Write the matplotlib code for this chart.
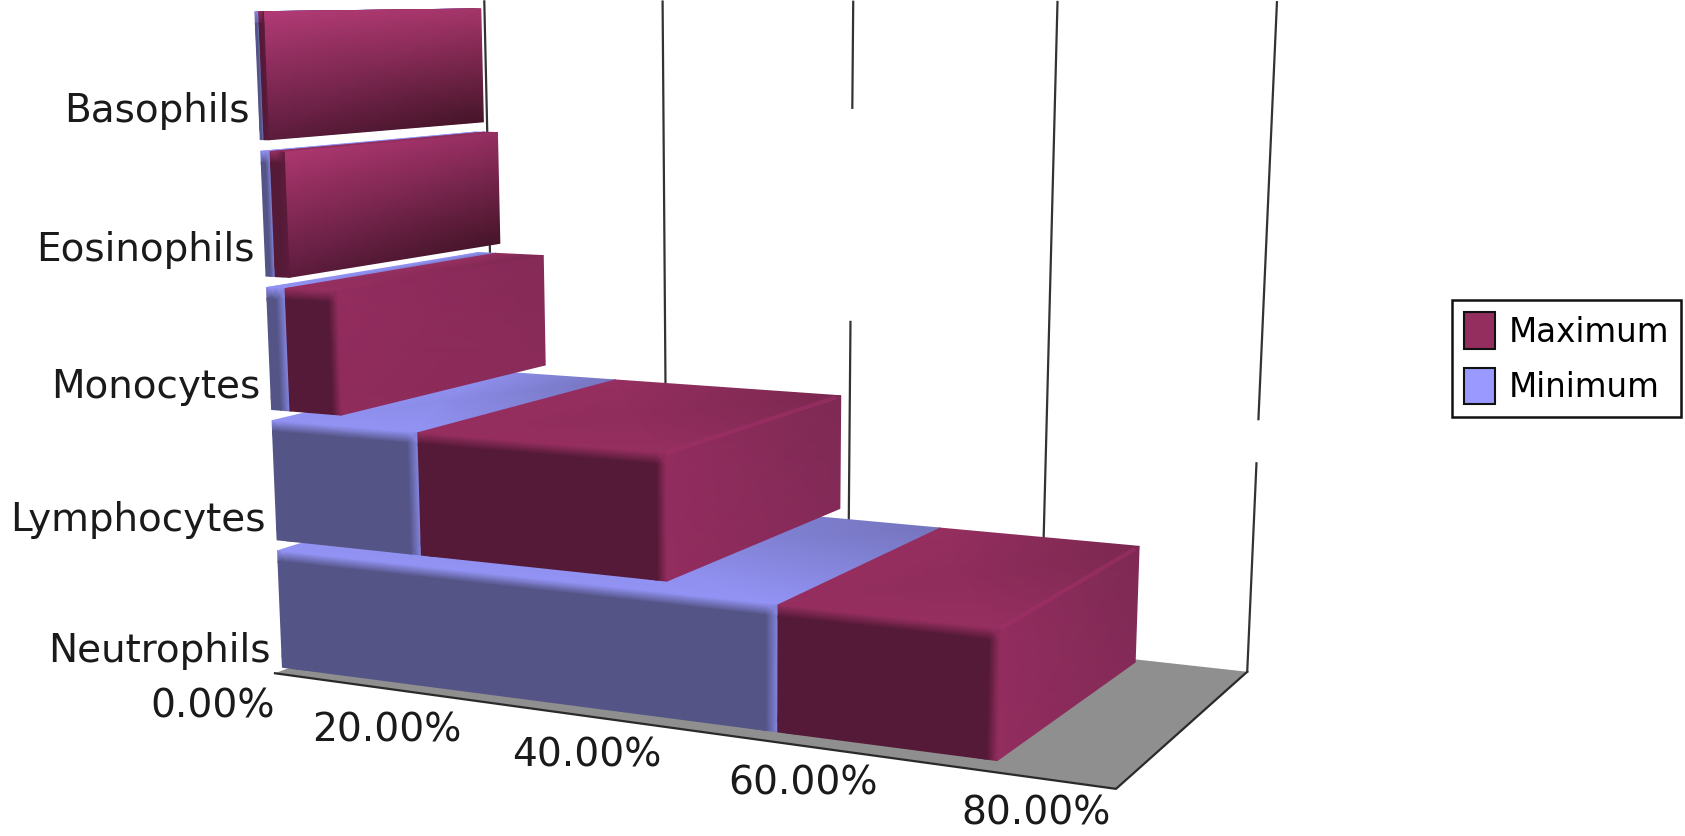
#!/usr/bin/env python3
import matplotlib

matplotlib.use("Agg")
import matplotlib.pyplot as plt
import numpy as np
from matplotlib.colors import to_rgb
from matplotlib.patches import Patch, Polygon

categories = ["Neutrophils", "Lymphocytes", "Monocytes", "Eosinophils", "Basophils"]
minimum = [50.4, 15.5, 2.0, 1.0, 0.4]
maximum = [70.0, 40.0, 7.5, 2.5, 0.9]
value_ticks = [0, 20, 40, 60, 80]

# canvas units are the axes' data units
WIDTH, HEIGHT = 1568, 778
GAP_BELOW, GAP_ABOVE = 0.025, 0.06
DEPTH_FRONT, DEPTH_BACK = 0.03, 0.945
FLOOR_FRONT_END = 80.8
FLOOR_FRONT_DEPTH = -0.03
BEVEL_Y = 0.08

# (value, height, depth) -> canvas, used to solve the camera
CAMERA_POINTS = [
    ((0, 0, 0), (255, 630)),
    ((80, 0, 1), (1161, 627)),
    ((0, 0, 1), (463, 545)),
    ((0, 5, 1), (449, 3)),
    ((80, 5, 1), (1189, 3)),
    ((0, 0.025, 0.03), (262, 622)),
    ((0, 0.94, 0.03), (262, 515)),
    ((0, 4.025, 0.03), (244, 128)),
    ((0, 4.94, 0.03), (238, 8)),
    ((70, 0.025, 0.03), (931, 702)),
    ((70, 0.94, 0.03), (929, 588)),
    ((70, 0.025, 0.945), (1057, 617)),
    ((70, 0.94, 0.945), (1060, 508)),
    ((40, 1.025, 0.03), (617, 535)),
    ((40, 1.94, 0.03), (617, 428)),
    ((40, 1.025, 0.945), (781, 472)),
    ((40, 1.94, 0.945), (783, 368)),
]

# gridline value -> unbroken stretches along the wall height
GRID_SPANS = {
    0: [(0, 5)],
    20: [(0, 5)],
    40: [(0, 2.51), (4.19, 5)],
    60: [(0, 5)],
    80: [(0, 1.62), (1.955, 5)],
}

RED_FRONT = "#551a37"
RED_TOP = ["#962f60", "#7b2850"]
RED_SIDE = {
    0: ("#932d5f", "#7e2a54", "#932d5f", "#842a58"),
    1: ("#932d5f", "#7e2a54", "#932d5f", "#842a58"),
    2: ("#932d5f", "#862a58", "#8f2c5c", "#8a2b59"),
    3: ("#ad3770", "#962f62", "#5c1c3c", "#451529"),
    4: ("#b23b76", "#a43569", "#5c1c3c", "#451529"),
}
BLUE_FRONT = "#545487"
BLUE_TOP = ["#9393f5", "#7474bd"]
BLUE_SIDE = ("#9090ee", "#7c7cc8", "#8888e4", "#7070b5")
EDGE_LIGHT = "#a23069"


def solve_camera(points):
    """ Direct linear transform from the reference points to a 3x4 matrix """

    rows = []
    for (x, y, z), (u, v) in points:
        world = [x / 80.0, y / 5.0, z, 1.0]
        rows.append(world + [0, 0, 0, 0] + [-u * w for w in world])
        rows.append([0, 0, 0, 0] + world + [-v * w for w in world])
    _, _, vh = np.linalg.svd(np.array(rows))
    return vh[-1].reshape(3, 4)


CAMERA = solve_camera(CAMERA_POINTS)


def project(x, y, z):
    """ Canvas position of a point given as value, height and depth """

    world = np.stack(
        [np.asarray(x) / 80.0, np.asarray(y) / 5.0, np.asarray(z), np.ones_like(x, float)],
        axis=-1,
    )
    p = world @ CAMERA.T
    return p[..., 0] / p[..., 2], p[..., 1] / p[..., 2]


def rgb(c):
    return np.array(to_rgb(c))


def bevel_stops(start, stop, bevel):
    bevel = min(bevel, (stop - start) / 2.0)
    return np.array([start, start + bevel, stop - bevel, stop])


def front_face(ax, v0, v1, y0, y1, base, top_col, side_col, bevel):
    vs = bevel_stops(v0, v1, bevel)
    ys = bevel_stops(y0, y1, BEVEL_Y)
    vv, yy = np.meshgrid(vs, ys)
    colors = np.zeros(vv.shape + (3,))
    colors[...] = rgb(base)
    colors[-1, :] = rgb(top_col)
    colors[:, -1] = rgb(side_col)
    px, py = project(vv, yy, np.full(vv.shape, DEPTH_FRONT))
    ax.pcolormesh(px, py, colors, shading="gouraud", zorder=3)


def top_face(ax, v0, v1, y, colors):
    vs = np.array([v0, v1])
    ds = np.array([DEPTH_FRONT, DEPTH_BACK])
    vv, dd = np.meshgrid(vs, ds)
    cols = np.array([[rgb(colors[0]), rgb(colors[0])], [rgb(colors[0]), rgb(colors[1])]])
    px, py = project(vv, np.full(vv.shape, y), dd)
    ax.pcolormesh(px, py, cols, shading="gouraud", zorder=3)


def side_face(ax, v, y0, y1, shades):
    """ shades run front top, back top, front bottom, back bottom """

    ds = np.array([DEPTH_FRONT, DEPTH_BACK])
    ys = np.array([y0, y1])
    dd, yy = np.meshgrid(ds, ys)
    cols = np.array(
        [[rgb(shades[2]), rgb(shades[3])], [rgb(shades[0]), rgb(shades[1])]]
    )
    px, py = project(np.full(dd.shape, v), yy, dd)
    ax.pcolormesh(px, py, cols, shading="gouraud", zorder=3)


def draw_box(ax, v0, v1, slot, front, top, side, bevel):
    y0, y1 = slot + GAP_BELOW, slot + 1 - GAP_ABOVE
    top_face(ax, v0, v1, y1, top)
    side_face(ax, v1, y0, y1, side)
    front_face(ax, v0, v1, y0, y1, front, top[0], side[2], bevel)


def draw_edge_light(ax, value, slot):
    """ Thin bright line where the top and the end of a bar meet """

    y = slot + 1 - GAP_ABOVE
    ds = np.array([DEPTH_FRONT, DEPTH_BACK - 0.03])
    px, py = project(np.full(2, value), np.full(2, y), ds)
    ax.plot(px, py, color=EDGE_LIGHT, lw=3, alpha=0.55, zorder=3.1, solid_capstyle="butt")


def draw_floor(ax):
    xs = np.array([0.0, FLOOR_FRONT_END, 80.0, 0.0])
    ds = np.array([0.0, FLOOR_FRONT_DEPTH, 1.0, 1.0])
    px, py = project(xs, np.zeros(4), ds)
    corners = np.column_stack([px, py])
    ax.add_patch(Polygon(corners, fc="#8f8f8f", ec="none", zorder=1))
    ax.plot(corners[:3, 0], corners[:3, 1], color="#2a2a2a", lw=1.6, zorder=1.5)


def draw_grid(ax):
    for value in value_ticks:
        for y0, y1 in GRID_SPANS[value]:
            px, py = project(np.array([value, value]), np.array([y0, y1]), np.ones(2))
            ax.plot(px, py, color="#333333", lw=1.6, zorder=2)


def draw_labels(ax):
    for i, name in enumerate(categories):
        px, py = project(0.0, i + 0.2, 0.0)
        ax.text(px - 3 + 0.3 * i, py + 2.5 - 1.8 * i, name, ha="right", va="center", fontsize=28, color="#1a1a1a", zorder=5)
    for value in value_ticks:
        px, py = project(float(value), 0.0, 0.0)
        ax.text(px, py + 31 - 0.04 * value, "%.2f%%" % value, ha="right", va="center", fontsize=28.2, color="#1a1a1a", zorder=5)


def main():

    fig = plt.figure(figsize=(16.85, 8.36), dpi=100)
    ax = fig.add_axes([0, 0, 1, 1])
    ax.set_xlim(0, WIDTH)
    ax.set_ylim(HEIGHT, 0)
    ax.set_axis_off()

    draw_floor(ax)
    draw_grid(ax)

    # lower bars first, the ones above them hide their back parts
    for i in range(len(categories)):
        draw_box(ax, 0.0, minimum[i], i, BLUE_FRONT, BLUE_TOP, BLUE_SIDE, 1.1)
        draw_box(ax, minimum[i], maximum[i], i, RED_FRONT, RED_TOP, RED_SIDE[i], 0.9)
        if i < 2:
            draw_edge_light(ax, maximum[i], i)

    draw_labels(ax)

    handles = [
        Patch(fc="#932e5e", ec="#111111", lw=1.5, label="Maximum"),
        Patch(fc="#9999ff", ec="#111111", lw=1.5, label="Minimum"),
    ]
    legend = ax.legend(
        handles=handles,
        loc="center left",
        bbox_to_anchor=(1351 / WIDTH, 1 - 333.5 / HEIGHT),
        fontsize=23.5,
        frameon=True,
        fancybox=False,
        edgecolor="#111111",
        framealpha=1,
        handlelength=0.95,
        handleheight=1.35,
        handletextpad=0.4,
        labelspacing=0.57,
        borderpad=0.38,
        borderaxespad=0,
    )
    legend.get_frame().set_linewidth(1.8)

    fig.savefig("out.png", dpi=100)


if __name__ == "__main__":
    main()
